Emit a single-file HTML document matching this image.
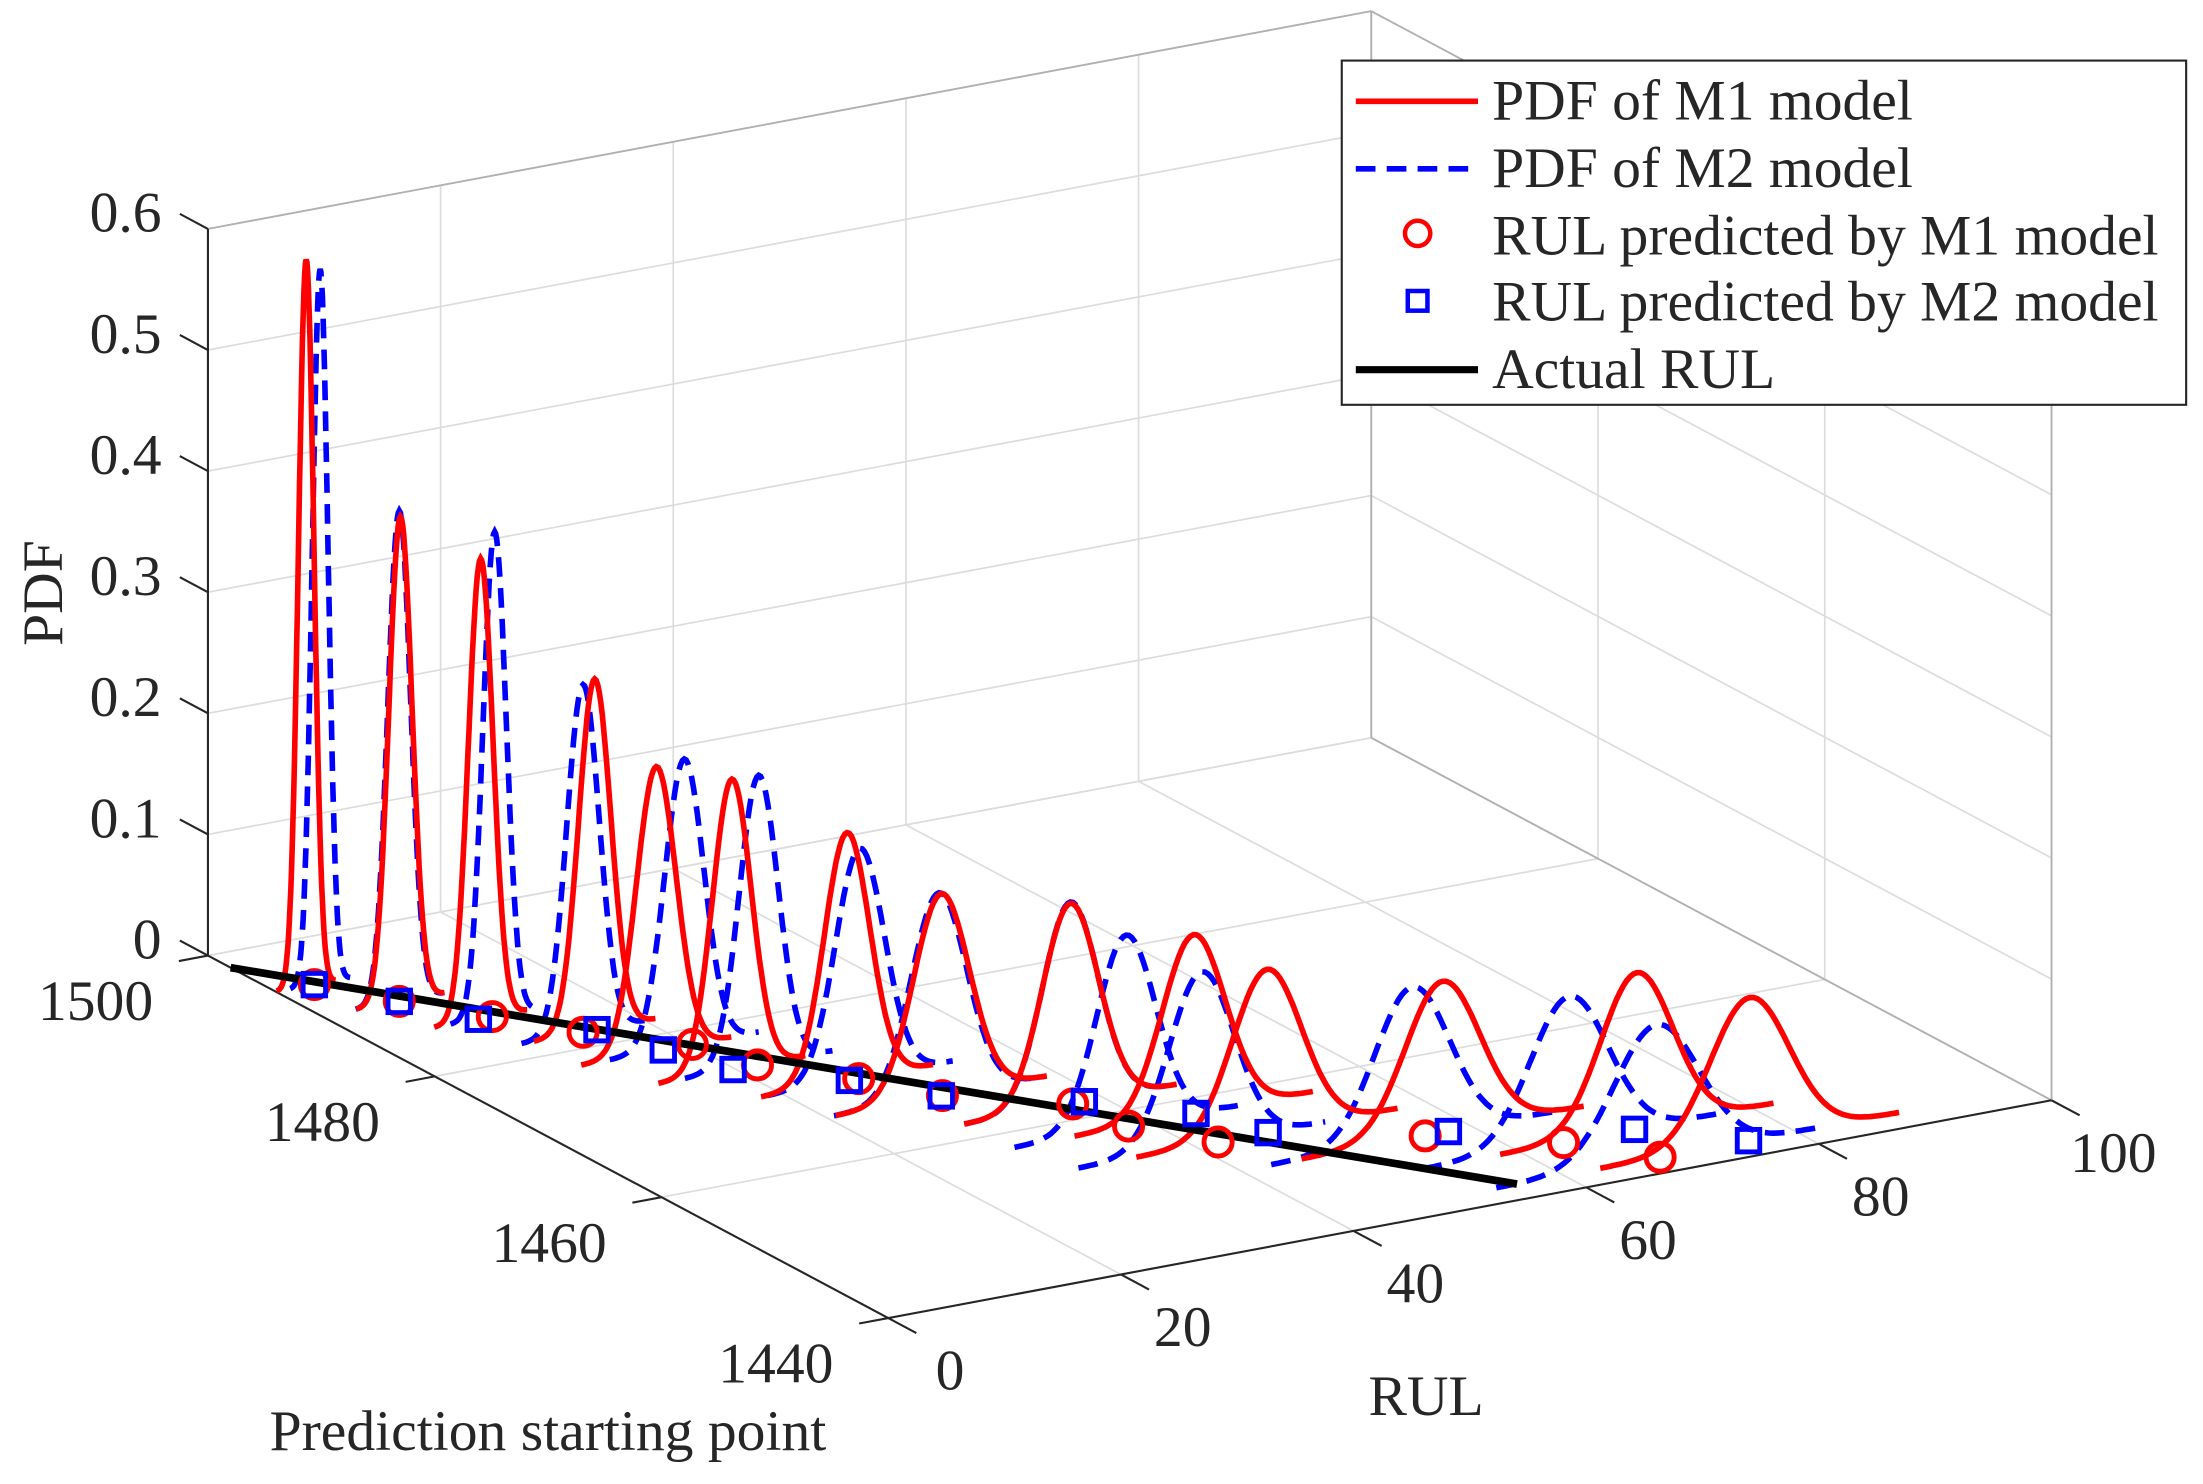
<!DOCTYPE html>
<html><head><meta charset="utf-8">
<style>
html,body{margin:0;padding:0;background:#fff;}
svg{display:block;}
text{font-family:"Liberation Serif",serif;fill:#262626;}
</style></head>
<body>
<svg id="chart" width="2203" height="1484" viewBox="0 0 1568 1056" xmlns="http://www.w3.org/2000/svg">
<g id="grid"></g>
<g id="axes"></g>
<g id="series"></g>
<text x="0" y="0" font-size="41" text-anchor="middle" transform="translate(44,422) rotate(-90)">PDF</text>
<text x="390" y="1032" font-size="41" text-anchor="middle">Prediction starting point</text>
<text x="1015" y="1007" font-size="41" text-anchor="middle">RUL</text>
<g>
<rect x="955" y="43" width="601" height="245" fill="#fff" stroke="#262626" stroke-width="1.5"/>
<g><line x1="965" y1="72" x2="1052" y2="72" stroke="#ff0000" stroke-width="4"/><text x="1062" y="85" font-size="41">PDF of M1 model</text></g>
<g><line x1="965" y1="120" x2="1052" y2="120" stroke="#0000ff" stroke-width="4" stroke-dasharray="14,8"/><text x="1062" y="133" font-size="41">PDF of M2 model</text></g>
<g><circle cx="1009" cy="166" r="9" fill="none" stroke="#ff0000" stroke-width="3.2"/><text x="1062" y="181" font-size="41">RUL predicted by M1 model</text></g>
<g><rect x="1002" y="207" width="14" height="14" fill="none" stroke="#0000ff" stroke-width="3.2"/><text x="1062" y="228" font-size="41">RUL predicted by M2 model</text></g>
<g><line x1="965" y1="263" x2="1052" y2="263" stroke="#000" stroke-width="5"/><text x="1062" y="276" font-size="41">Actual RUL</text></g>
</g>
</svg>
<script>
const psp = [1494,1490,1486,1482,1478,1474,1470,1466,1462,1458,1454,1450,1446,1442];
const m1Mean = [2.6,6.8,9.8,15.7,17.1,19.7,25.7,29.9,37.1,43.8,46.2,57.4,70.2,76.0];
const m1Peak = [0.60,0.40,0.38,0.29,0.235,0.24,0.205,0.167,0.166,0.148,0.135,0.125,0.129,0.118];
const m2Mean = [3.8,6.7,11.0,14.7,19.5,22.0,26.8,29.7,37.1,38.0,40.6,54.8,64.4,68.0];
const m2Peak = [0.59,0.405,0.40,0.287,0.237,0.239,0.19,0.168,0.167,0.158,0.143,0.125,0.12,0.11];
const m1Rul = [3.3,6.7,10.8,14.7,20.2,21.9,26.7,30.0,37.3,38.2,42.0,55.9,63.9,68.3];
const m2Rul = [3.3,6.7,9.6,15.9,17.7,19.8,25.9,29.9,38.3,44.0,46.3,57.9,70.0,75.9];
const actualPsp = [1498,1442];
const actualRul = [0,56];
const rulTicks = [0,20,40,60,80,100];
const pspTicks = [1500,1480,1460,1440];
const pdfTicks = [0,0.1,0.2,0.3,0.4,0.5,0.6];

const NS="http://www.w3.org/2000/svg";
function P(r,p,z){const q=1500-p;return [148+8.28*r+8.07*q, 680-1.55*r+4.3*q-862*z];}
function mk(tag,parent){const e=document.createElementNS(NS,tag);parent.appendChild(e);return e;}
function line(parent,a,b,color,w){const l=mk('line',parent);l.setAttribute('x1',a[0]);l.setAttribute('y1',a[1]);l.setAttribute('x2',b[0]);l.setAttribute('y2',b[1]);l.setAttribute('stroke',color);l.setAttribute('stroke-width',w);return l;}
const grid=document.getElementById('grid'), axes=document.getElementById('axes'), series=document.getElementById('series');
const gc='#dcdcdc';
rulTicks.forEach(r=>{const l=line(grid,P(r,1500,0),P(r,1500,0.6),gc,1.2);

});
pdfTicks.forEach(z=>{const l=line(grid,P(0,1500,z),P(100,1500,z),gc,1.2);


const l2=line(grid,P(100,1500,z),P(100,1440,z),gc,1.2);

});
pspTicks.forEach(p=>{const l=line(grid,P(100,p,0),P(100,p,0.6),gc,1.2);


const l2=line(grid,P(0,p,0),P(100,p,0),gc,1.2);

});
rulTicks.forEach(r=>{const l=line(grid,P(r,1500,0),P(r,1440,0),gc,1.2);

});
[[P(100,1500,0),P(100,1500,0.6)],[P(100,1500,0),P(100,1440,0)],[P(0,1500,0.6),P(100,1500,0.6)],[P(100,1500,0.6),P(100,1440,0.6)],[P(100,1440,0),P(100,1440,0.6)]].forEach(s=>{
const l=line(grid,s[0],s[1],'#b0b0b0',1.3);

});
const zAx=line(axes,P(0,1500,0),P(0,1500,0.6),'#262626',1.5);


pdfTicks.forEach(z=>{const a=P(0,1500,z);const t=line(axes,a,[a[0]-20,a[1]-10.7],'#262626',1.5);


const tx=mk('text',axes);tx.setAttribute('x',a[0]-33);tx.setAttribute('y',a[1]+2);tx.setAttribute('font-size','41');tx.setAttribute('text-anchor','end');tx.textContent=String(z);

});
const yAx=line(axes,P(0,1500,0),P(0,1440,0),'#262626',1.5);


pspTicks.forEach(p=>{const a=P(0,p,0);const t=line(axes,a,[a[0]-20.7,a[1]+3.9],'#262626',1.5);


const tx=mk('text',axes);tx.setAttribute('x',a[0]-80);tx.setAttribute('y',a[1]+46);tx.setAttribute('font-size','41');tx.setAttribute('text-anchor','middle');tx.textContent=String(p);

});
const xAx=line(axes,P(0,1440,0),P(100,1440,0),'#262626',1.5);


rulTicks.forEach(r=>{const a=P(r,1440,0);const t=line(axes,a,[a[0]+20,a[1]+10.7],'#262626',1.5);


const tx=mk('text',axes);tx.setAttribute('x',a[0]+44);tx.setAttribute('y',a[1]+51);tx.setAttribute('font-size','41');tx.setAttribute('text-anchor','middle');tx.textContent=String(r);

});
function curve(mean,peak,p,color,dash,name){
const sd=0.39894/peak;let d='';
for(let i=0;i<=80;i++){const r=mean-3.8*sd+7.6*sd*i/80;const z=peak*Math.exp(-0.5*((r-mean)/sd)**2);const pt=P(r,p,z);d+=(i?'L':'M')+pt[0].toFixed(1)+','+pt[1].toFixed(1);}
const path=mk('path',series);path.setAttribute('d',d);path.setAttribute('fill','none');path.setAttribute('stroke',color);path.setAttribute('stroke-width','4');
if(dash)path.setAttribute('stroke-dasharray',dash);

}
psp.forEach((p,i)=>{curve(m2Mean[i],m2Peak[i],p,'#0000ff','14,8','m2-pdf-curve');});
psp.forEach((p,i)=>{curve(m1Mean[i],m1Peak[i],p,'#ff0000',null,'m1-pdf-curve');});
const a0=P(actualRul[0],actualPsp[0],0),a1=P(actualRul[1],actualPsp[1],0);
const act=line(series,a0,a1,'#000',5.5);


psp.forEach((p,i)=>{const c=P(m1Rul[i],p,0);const e=mk('circle',series);e.setAttribute('cx',c[0]);e.setAttribute('cy',c[1]);e.setAttribute('r','10');e.setAttribute('fill','none');e.setAttribute('stroke','#ff0000');e.setAttribute('stroke-width','3.5');


const s=P(m2Rul[i],p,0);const q=mk('rect',series);q.setAttribute('x',s[0]-8);q.setAttribute('y',s[1]-8);q.setAttribute('width','16');q.setAttribute('height','16');q.setAttribute('fill','none');q.setAttribute('stroke','#0000ff');q.setAttribute('stroke-width','3.5');

});
</script>
</body></html>
